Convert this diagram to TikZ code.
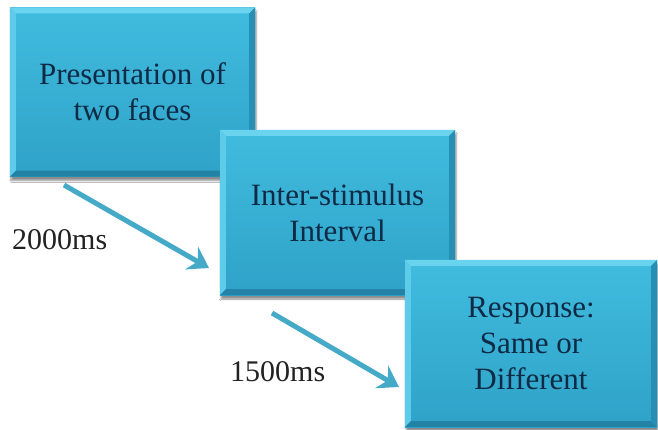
\documentclass[tikz,border=0pt]{standalone}
\usepackage{fontspec}
\setmainfont{Liberation Serif}
\usetikzlibrary{arrows.meta,shadows.blur}

\definecolor{boxtop}{HTML}{40BCDF}
\definecolor{boxbot}{HTML}{2FA2C8}
\definecolor{bevlight}{HTML}{6AD3EE}
\definecolor{bevdark}{HTML}{2283A6}
\definecolor{boxtext}{HTML}{0E2A45}
\definecolor{flowc}{HTML}{45A9C8}
\definecolor{labtext}{HTML}{222222}

\tikzset{
  stage/.style={rectangle, inner sep=0pt, top color=boxtop, bottom color=boxbot,
    text=boxtext, align=center, font=\rmfamily\fontsize{31}{36}\selectfont,
    blur shadow={shadow xshift=1pt, shadow yshift=-4pt, shadow blur steps=6, shadow opacity=45}},
  flow/.style={line width=5pt, draw=flowc,
    -{Stealth[length=20pt, width=26pt, inset=7pt]}},
  delay/.style={text=labtext, font=\rmfamily\fontsize{30}{34}\selectfont, anchor=west, inner sep=0pt}
}

% stage box with a bevelled rim
\newcommand\stagebox[5]{%
  \node[stage, minimum width=#3, minimum height=#4] (#1) at #2 {#5};
  \fill[bevlight] (#1.north west) -- (#1.north east)
    -- ([xshift=-6pt,yshift=-6pt]#1.north east) -- ([xshift=6pt,yshift=-6pt]#1.north west) -- cycle;
  \fill[bevlight!70!boxtop] (#1.north west) -- ([xshift=6pt,yshift=-6pt]#1.north west)
    -- ([xshift=6pt,yshift=6pt]#1.south west) -- (#1.south west) -- cycle;
  \fill[bevdark] (#1.south west) -- (#1.south east)
    -- ([xshift=-6pt,yshift=6pt]#1.south east) -- ([xshift=6pt,yshift=6pt]#1.south west) -- cycle;
  \fill[bevdark!60!boxbot] (#1.north east) -- (#1.south east)
    -- ([xshift=-6pt,yshift=6pt]#1.south east) -- ([xshift=-6pt,yshift=-6pt]#1.north east) -- cycle;
}

\begin{document}
\begin{tikzpicture}[x=1pt, y=-1pt]
\useasboundingbox[fill=white] (0,0) rectangle (658,429);

% arrows between the stages
\coordinate (a1s) at (64,185);
\coordinate (a1e) at (209,268);
\coordinate (a2s) at (272,313);
\coordinate (a2e) at (399,387);
\draw[flow] (a1s) -- (a1e);
\draw[flow] (a2s) -- (a2e);

% stages
\stagebox{present}{(132.5,92)}{245pt}{169pt}{Presentation of\\two faces}
\stagebox{isi}{(337.5,212.5)}{235pt}{165pt}{Inter-stimulus\\Interval}
\stagebox{resp}{(531,343.5)}{252pt}{167pt}{Response:\\Same or\\Different}

% durations
\node[delay] (d1) at (12,240) {2000ms};
\node[delay] (d2) at (230,372) {1500ms};
\end{tikzpicture}
\end{document}
